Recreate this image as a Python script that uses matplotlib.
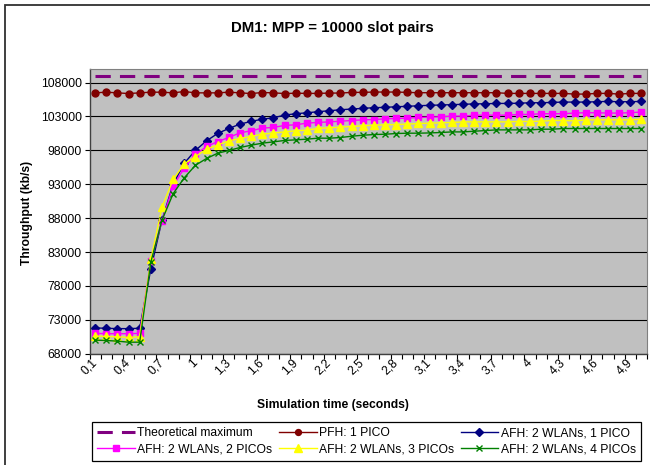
import matplotlib
matplotlib.use("Agg")
import matplotlib.pyplot as plt
from matplotlib.patches import Rectangle

plt.rcParams['font.family'] = ['Liberation Sans', 'DejaVu Sans']

# simulation time (s), one category per 0.1 s
times = [0.1, 0.2, 0.3, 0.4, 0.5, 0.6, 0.7, 0.8, 0.9, 1.0,
         1.1, 1.2, 1.3, 1.4, 1.5, 1.6, 1.7, 1.8, 1.9, 2.0,
         2.1, 2.2, 2.3, 2.4, 2.5, 2.6, 2.7, 2.8, 2.9, 3.0,
         3.1, 3.2, 3.3, 3.4, 3.5, 3.6, 3.7, 3.8, 3.9, 4.0,
         4.1, 4.2, 4.3, 4.4, 4.5, 4.6, 4.7, 4.8, 4.9, 5.0]

theoretical_max = 108900

pfh_1pico = [106480, 106580, 106480, 106380, 106480, 106580, 106580, 106480, 106680, 106480,
             106480, 106480, 106580, 106480, 106380, 106530, 106480, 106380, 106430, 106400,
             106400, 106450, 106450, 106550, 106550, 106600, 106600, 106600, 106550, 106500,
             106500, 106500, 106500, 106500, 106500, 106500, 106500, 106400, 106400, 106400,
             106400, 106400, 106400, 106300, 106300, 106400, 106400, 106300, 106400, 106400]

afh_1pico = [71800, 71750, 71700, 71700, 71750, 80500, 87700, 93000, 96100, 98000,
             99400, 100500, 101230, 101870, 102270, 102600, 102800, 103200, 103400, 103540,
             103700, 103840, 103990, 104090, 104190, 104290, 104340, 104430, 104490, 104580,
             104640, 104690, 104740, 104790, 104850, 104870, 104920, 104920, 104950, 105020,
             105020, 105070, 105120, 105120, 105120, 105170, 105220, 105170, 105170, 105220]

afh_2picos = [71000, 70950, 70950, 70950, 71000, 81700, 87600, 92720, 95400, 97400,
              98570, 99300, 99900, 100590, 100880, 101280, 101380, 101680, 101770, 102020,
              102120, 102200, 102300, 102400, 102500, 102550, 102650, 102700, 102750, 102850,
              102900, 102950, 103050, 103050, 103170, 103190, 103190, 103190, 103300, 103300,
              103400, 103400, 103400, 103500, 103550, 103550, 103500, 103500, 103550, 103650]

afh_3picos = [70600, 70550, 70500, 70400, 70500, 81900, 89600, 93700, 96000, 97090,
              98170, 98800, 99400, 99750, 100050, 100390, 100540, 100730, 100880, 100980,
              101250, 101310, 101420, 101520, 101610, 101710, 101760, 101810, 101860, 101960,
              102010, 102060, 102110, 102200, 102200, 102200, 102200, 102200, 102260, 102260,
              102300, 102400, 102400, 102350, 102500, 102500, 102500, 102500, 102500, 102600]

afh_4picos = [70000, 69950, 69850, 69700, 69700, 81500, 87700, 91600, 93950, 95800,
              96800, 97580, 97980, 98420, 98760, 99060, 99250, 99460, 99550, 99650,
              99800, 99790, 99890, 100080, 100230, 100330, 100380, 100480, 100530, 100530,
              100570, 100630, 100720, 100720, 100820, 100920, 101020, 101020, 101020, 101020,
              101120, 101120, 101220, 101220, 101220, 101220, 101220, 101220, 101220, 101220]

tick_labels = ["0,1", "0,4", "0,7", "1", "1,3", "1,6", "1,9", "2,2", "2,5",
               "2,8", "3,1", "3,4", "3,7", "4", "4,3", "4,6", "4,9"]

W, H = 650, 465
fig = plt.figure(figsize=(W / 100, H / 100), dpi=100)
ax = fig.add_axes([89.5 / W, 1 - 353.7 / H, (647 - 89.5) / W, (353.7 - 69) / H])
ax.set_facecolor('#C0C0C0')

xs = list(range(1, len(times) + 1))

theo, = ax.plot(xs, [theoretical_max] * len(xs), color='#800080', lw=2.2,
                solid_capstyle='butt', dash_capstyle='butt')
theo.set_dashes([5, 3])
l_pfh, = ax.plot(xs, pfh_1pico, color='#800000', lw=1, marker='o', ms=5)
l_a1, = ax.plot(xs, afh_1pico, color='#000080', lw=1, marker='D', ms=4.5)
l_a2, = ax.plot(xs, afh_2picos, color='#FF00FF', lw=1, marker='s', ms=5)
l_a3, = ax.plot(xs, afh_3picos, color='#FFFF00', lw=1, marker='^', ms=6)
l_a4, = ax.plot(xs, afh_4picos, color='#008000', lw=1, marker='x', ms=5, mew=1)

ax.set_xlim(0.5, len(xs) + 0.5)
ax.set_ylim(68000, 110000)
ax.set_yticks(range(68000, 108001, 5000))
ax.yaxis.grid(True, color='black', lw=0.8)
ax.set_axisbelow(True)

# category labels every third point, tick marks between categories
ax.set_xticks(xs[::3])
ax.set_xticklabels(tick_labels, rotation=45, ha='right', va='center',
                   rotation_mode='anchor')
ax.set_xticks([x + 0.5 for x in range(0, len(xs) + 1)], minor=True)
ax.tick_params(axis='x', which='major', length=0, pad=5, labelsize=8.7)
ax.tick_params(axis='x', which='minor', length=3.5, width=0.8, direction='out')
ax.tick_params(axis='y', length=3.5, width=0.8, pad=2, labelsize=8.7)

for s in ['top', 'right']:
    ax.spines[s].set_color('#808080')
for s in ['left', 'bottom']:
    ax.spines[s].set_color('#404040')
    ax.spines[s].set_linewidth(1.0)

fig.text(332 / W, 1 - 28 / H, 'DM1: MPP = 10000 slot pairs', ha='center', va='center',
         fontsize=10.8, weight='bold')
fig.text(27 / W, 1 - 213 / H, 'Throughput (kb/s)', ha='center', va='center',
         rotation=90, fontsize=8.7, weight='bold')
fig.text(333 / W, 1 - 405 / H, 'Simulation time (seconds)', ha='center', va='center',
         fontsize=8.7, weight='bold')

# chart area border (cut by the image edge on the right and bottom)
fig.add_artist(Rectangle((5 / W, -0.1), 1.2, 1.1 - 5 / H, transform=fig.transFigure,
                         fill=False, edgecolor='#303030', lw=1.3))

handles = [theo, l_a2, l_pfh, l_a3, l_a1, l_a4]
labels = ['Theoretical maximum', 'AFH: 2 WLANs, 2 PICOs', 'PFH: 1 PICO',
          'AFH: 2 WLANs, 3 PICOs', 'AFH: 2 WLANs, 1 PICO', 'AFH: 2 WLANs, 4 PICOs']
leg = fig.legend(handles, labels, ncol=3, loc='upper left',
                 bbox_to_anchor=(92 / W, 1 - 422 / H), fontsize=8.7,
                 frameon=True, fancybox=False, edgecolor='black', framealpha=1,
                 handlelength=3.1, handletextpad=0.2, columnspacing=0.55,
                 borderpad=0.45, labelspacing=0.3, borderaxespad=0,
                 markerscale=0.85)
leg.get_frame().set_linewidth(0.9)

fig.savefig('out.png', dpi=100)
